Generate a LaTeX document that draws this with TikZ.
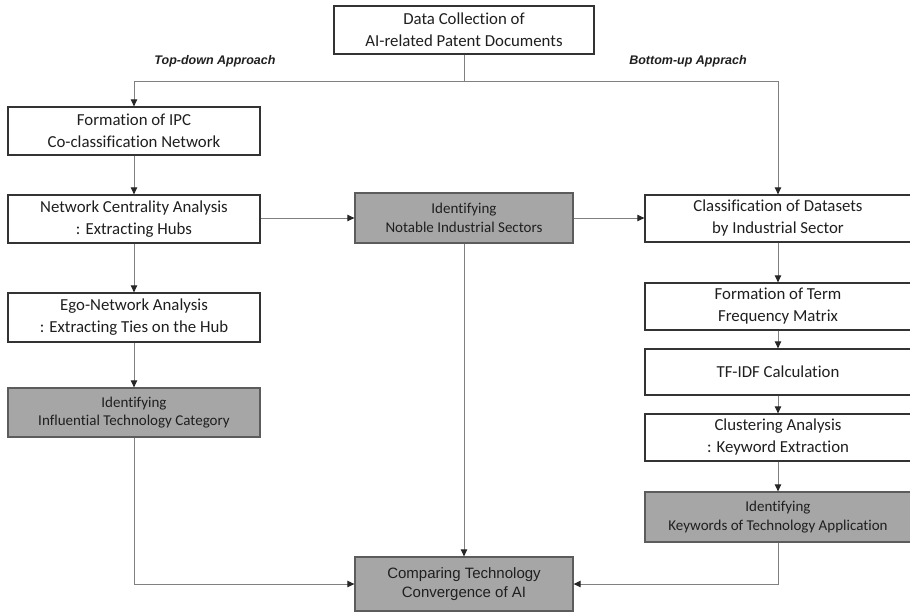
\documentclass[tikz,border=0pt]{standalone}
\usepackage{fontspec}
\setmainfont{Carlito}[Ligatures={NoCommon}]
\newfontfamily\arialf{Liberation Sans}
\usetikzlibrary{arrows.meta}
\definecolor{boxgray}{HTML}{A6A6A6}
\definecolor{bordc}{HTML}{333333}
\definecolor{linec}{HTML}{808080}
\tikzset{
  wbox/.style={draw=bordc, line width=1.3pt, fill=white, align=center, inner sep=0pt,
    font=\fontsize{16.8}{22}\selectfont, text=black!88},
  gbox/.style={draw=bordc!80, line width=1.3pt, fill=boxgray, align=center, inner sep=0pt,
    font=\fontsize{15}{18.5}\selectfont, text=black!88},
  abox/.style={gbox, font=\arialf\fontsize{15}{19.5}\selectfont},
  conn/.style={draw=linec, line width=0.9pt, -{Triangle[length=7pt,width=6.5pt,fill=black!85,color=black!85]}},
  plain/.style={draw=linec, line width=0.9pt},
  lab/.style={font=\arialf\bfseries\itshape\fontsize{12.5}{14}\selectfont, text=black!88}
}
\begin{document}
\begin{tikzpicture}[x=1pt,y=-1pt]
\useasboundingbox (0,0) rectangle (910,614);
% boxes
\node[wbox, minimum width=260pt, minimum height=48pt] (top) at (464,30) {Data Collection of\\AI-related Patent Documents};
\node[wbox, minimum width=252pt, minimum height=48pt] (l1) at (134,131) {Formation of IPC\\Co-classification Network};
\node[wbox, minimum width=252pt, minimum height=48pt] (l2) at (134,219) {Network Centrality Analysis\\: Extracting Hubs};
\node[wbox, minimum width=252pt, minimum height=49pt] (l3) at (134,317.5) {Ego-Network Analysis\\: Extracting Ties on the Hub};
\node[gbox, minimum width=252pt, minimum height=49pt] (l4) at (134,412.5) {Identifying\\Influential Technology Category};
\node[gbox, minimum width=218pt, minimum height=50pt] (m) at (464,218) {Identifying\\Notable Industrial Sectors};
\node[wbox, minimum width=266pt, minimum height=47pt] (r1) at (778,218.5) {Classification of Datasets\\by Industrial Sector};
\node[wbox, minimum width=266pt, minimum height=47pt] (r2) at (778,306.5) {Formation of Term\\Frequency Matrix};
\node[wbox, minimum width=266pt, minimum height=46pt] (r3) at (778,372) {TF-IDF Calculation};
\node[wbox, minimum width=266pt, minimum height=47pt] (r4) at (778,437.5) {Clustering Analysis\\: Keyword Extraction};
\node[gbox, minimum width=266pt, minimum height=50pt] (r5) at (778,517) {Identifying\\Keywords of Technology Application};
\node[abox, minimum width=218pt, minimum height=54pt] (b) at (464,584) {Comparing Technology\\Convergence of AI};
% labels
\node[lab] (tdl) at (215,61) {Top-down Approach};
\node[lab] (bul) at (688,61) {Bottom-up Apprach};
% connectors
\coordinate (j) at (464,81);
\coordinate (jl) at (134,81);
\coordinate (jr) at (778,81);
\draw[plain] (top.south) -- (j);
\draw[plain] (jl) -- (jr);
\draw[conn] (jl) -- (l1.north);
\draw[conn] (jr) -- (r1.north);
\draw[conn] (l1) -- (l2);
\draw[conn] (l2) -- (l3);
\draw[conn] (l3) -- (l4);
\draw[conn] (l2.east |- m.west) -- (m.west);
\draw[conn] (m.east) -- (r1.west |- m.east);
\draw[conn] (r1) -- (r2);
\draw[conn] (r2) -- (r3);
\draw[conn] (r3) -- (r4);
\draw[conn] (r4) -- (r5);
\draw[conn] (m) -- (b);
\draw[conn] (l4.south) |- (b.west);
\draw[conn] (r5.south) |- (b.east);
\end{tikzpicture}
\end{document}
